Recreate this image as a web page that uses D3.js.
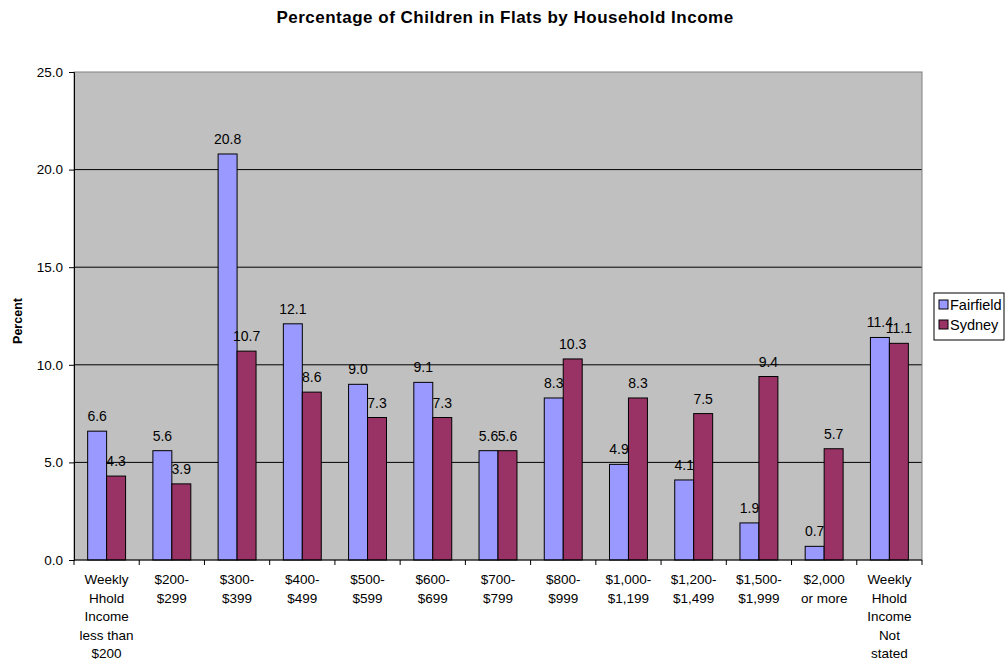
<!DOCTYPE html>
<html><head><meta charset="utf-8">
<script src="https://cdn.jsdelivr.net/npm/d3@7"></script>
<style>body{margin:0;background:#fff;} text{font-family:"Liberation Sans",Arial,sans-serif;}</style>
</head><body>
<svg id="chart" width="1007" height="665"></svg>
<script>
const categories = [
  ["Weekly","Hhold","Income","less than","$200"],
  ["$200-","$299"],["$300-","$399"],["$400-","$499"],["$500-","$599"],
  ["$600-","$699"],["$700-","$799"],["$800-","$999"],["$1,000-","$1,199"],
  ["$1,200-","$1,499"],["$1,500-","$1,999"],["$2,000","or more"],
  ["Weekly","Hhold","Income","Not","stated"]
];
const fairfield = [6.6,5.6,20.8,12.1,9.0,9.1,5.6,8.3,4.9,4.1,1.9,0.7,11.4];
const sydney = [4.3,3.9,10.7,8.6,7.3,7.3,5.6,10.3,8.3,7.5,9.4,5.7,11.1];
const seriesNames = ["Fairfield","Sydney"];
const colors = ["#9999FF","#993366"];
const yTicks = [0,5,10,15,20,25];

const svg = d3.select("#chart");
const L=74, R=922, T=72, B=560;
const idx = d3.range(categories.length);
const x = d3.scaleBand().domain(idx).range([L,R]).paddingInner(0).paddingOuter(0);
const x1 = d3.scaleBand().domain([0,1]).range([0,x.bandwidth()]).paddingOuter(0.72).paddingInner(0);
const y = d3.scaleLinear().domain([0,25]).range([B,T]);

svg.append("rect").attr("x",L).attr("y",T).attr("width",R-L).attr("height",B-T).attr("fill","#C0C0C0");
svg.selectAll(".grid").data(yTicks.filter(d=>d>0&&d<25)).enter().append("line")
  .attr("x1",L).attr("x2",R).attr("y1",d=>y(d)).attr("y2",d=>y(d)).attr("stroke","#000").attr("stroke-width",1);
svg.append("rect").attr("x",L).attr("y",T).attr("width",R-L).attr("height",B-T).attr("fill","none").attr("stroke","#808080").attr("stroke-width",1);

const data = [fairfield, sydney];
data.forEach((vals,s)=>{
  svg.selectAll(".bar"+s).data(vals).enter().append("rect")
    .attr("x",(d,i)=>x(i)+x1(s)).attr("width",x1.bandwidth())
    .attr("y",d=>y(d)).attr("height",d=>B-y(d))
    .attr("fill",colors[s]).attr("stroke","#000").attr("stroke-width",1);
  svg.selectAll(".lab"+s).data(vals).enter().append("text")
    .attr("x",(d,i)=>x(i)+x1(s)+x1.bandwidth()/2).attr("y",d=>y(d)-10)
    .attr("text-anchor","middle").attr("font-size","14px").attr("fill","#000")
    .text(d=>d.toFixed(1));
});

const yAxis = svg.append("g").attr("transform",`translate(${L},0)`)
  .call(d3.axisLeft(y).tickValues(yTicks).tickFormat(d=>d.toFixed(1)).tickSize(5).tickPadding(6));
yAxis.select(".domain").attr("stroke","#000");
yAxis.selectAll("line").attr("stroke","#000");
yAxis.selectAll("text").attr("font-size","13.5px").attr("font-family","Liberation Sans, Arial, sans-serif").attr("fill","#000");

svg.append("line").attr("x1",L).attr("x2",R).attr("y1",B).attr("y2",B).attr("stroke","#000");
svg.selectAll(".xt").data(d3.range(categories.length+1)).enter().append("line")
  .attr("x1",d=>L+d*x.bandwidth()).attr("x2",d=>L+d*x.bandwidth()).attr("y1",B).attr("y2",B+5).attr("stroke","#000");
categories.forEach((lines,i)=>{
  const t = svg.append("text").attr("text-anchor","middle").attr("font-size","13.5px").attr("fill","#000");
  lines.forEach((ln,j)=>{
    t.append("tspan").attr("x",x(i)+x.bandwidth()/2).attr("y",B+24+j*18.5).text(ln);
  });
});

svg.append("text").attr("x",505).attr("y",23).attr("text-anchor","middle")
  .attr("font-size","17px").attr("font-weight","bold").attr("letter-spacing","0.5px")
  .text("Percentage of Children in Flats by Household Income");
svg.append("text").attr("transform","translate(22,321) rotate(-90)").attr("text-anchor","middle")
  .attr("font-size","12.5px").attr("font-weight","bold").text("Percent");

const lg = svg.append("g");
lg.append("rect").attr("x",934).attr("y",293).attr("width",70).attr("height",47).attr("fill","#fff").attr("stroke","#000");
seriesNames.forEach((n,i)=>{
  lg.append("rect").attr("x",939).attr("y",300+i*20).attr("width",9).attr("height",9).attr("fill",colors[i]).attr("stroke","#000");
  lg.append("text").attr("x",950).attr("y",310+i*20).attr("font-size","14.5px").text(n);
});
</script>
</body></html>
